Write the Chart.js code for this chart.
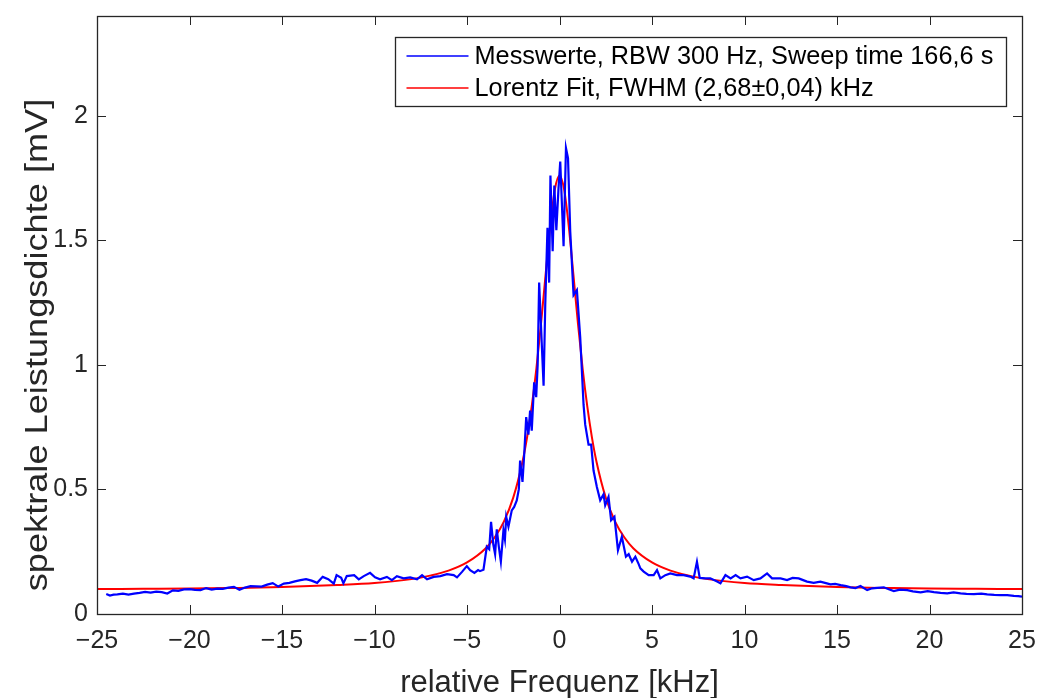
<!DOCTYPE html>
<html>
<head>
<meta charset="utf-8">
<script src="https://cdn.jsdelivr.net/npm/chart.js@4.4.1/dist/chart.umd.min.js"></script>
<style>
  html, body { margin: 0; padding: 0; background: #fff; }
</style>
</head>
<body>
<canvas id="spectrum" width="1040" height="698"></canvas>
<script>
var freqMess = [
  -24.5, -24.3, -24.1, -23.9, -23.6, -23.3, -23.0, -22.7, -22.4, -22.1,
  -21.8, -21.5, -21.2, -20.9, -20.6, -20.3, -20.0, -19.7, -19.4, -19.1,
  -18.8, -18.5, -18.2, -17.9, -17.6, -17.3, -17.0, -16.7, -16.4, -16.1,
  -15.8, -15.5, -15.2, -14.9, -14.6, -14.3, -14.0, -13.7, -13.4, -13.1,
  -12.8, -12.5, -12.2, -12.05, -11.8, -11.68, -11.5, -11.1, -10.85, -10.58,
  -10.24, -9.97, -9.7, -9.33, -9.06, -8.79, -8.43, -8.07, -7.7, -7.43,
  -7.16, -6.8, -6.44, -6.08, -5.72, -5.54, -5.27, -5.01, -4.83, -4.6,
  -4.4, -4.3, -4.11, -3.93, -3.8, -3.7, -3.58, -3.48, -3.39, -3.28,
  -3.17, -3.03, -2.95, -2.88, -2.76, -2.58, -2.45, -2.31, -2.2, -2.13,
  -2.0, -1.9, -1.8, -1.68, -1.59, -1.5, -1.37, -1.26, -1.18, -1.1,
  -0.95, -0.86, -0.77, -0.65, -0.56, -0.49, -0.37, -0.28, -0.17, -0.06,
  0.04, 0.22, 0.35, 0.46, 0.58, 0.76, 0.94, 1.12, 1.3, 1.39,
  1.57, 1.71, 1.84, 2.02, 2.2, 2.38, 2.47, 2.65, 2.79, 2.97,
  3.16, 3.37, 3.59, 3.74, 3.92, 4.1, 4.28, 4.37, 4.55, 4.82,
  5.09, 5.27, 5.45, 5.72, 5.99, 6.35, 6.71, 7.07, 7.25, 7.43,
  7.58, 7.88, 8.15, 8.52, 8.7, 8.97, 9.25, 9.52, 9.78, 10.14,
  10.5, 10.86, 11.22, 11.49, 11.95, 12.3, 12.6, 12.93, 13.1, 13.38,
  13.74, 14.1, 14.4, 14.65, 14.9, 15.2, 15.5, 15.73, 16.0, 16.27,
  16.63, 16.9, 17.17, 17.53, 17.8, 18.07, 18.4, 18.8, 19.1, 19.52,
  19.9, 20.24, 20.6, 20.96, 21.3, 21.68, 22.0, 22.4, 22.8, 23.12,
  23.5, 23.84, 24.2, 24.56, 24.8, 25.0
];
var valMess = [
  0.080, 0.074, 0.078, 0.079, 0.082, 0.078, 0.082, 0.085, 0.089, 0.086,
  0.090, 0.088, 0.082, 0.095, 0.093, 0.099, 0.100, 0.097, 0.096, 0.104,
  0.098, 0.102, 0.101, 0.106, 0.109, 0.097, 0.106, 0.112, 0.111, 0.110,
  0.118, 0.124, 0.110, 0.122, 0.125, 0.131, 0.136, 0.140, 0.134, 0.125,
  0.149, 0.140, 0.122, 0.156, 0.145, 0.123, 0.152, 0.156, 0.139, 0.152,
  0.165, 0.147, 0.139, 0.149, 0.136, 0.152, 0.143, 0.147, 0.139, 0.156,
  0.139, 0.149, 0.152, 0.160, 0.156, 0.147, 0.169, 0.192, 0.176, 0.165,
  0.176, 0.172, 0.178, 0.270, 0.260, 0.370, 0.280, 0.240, 0.340, 0.270,
  0.210, 0.336, 0.300, 0.390, 0.350, 0.416, 0.430, 0.456, 0.500, 0.616,
  0.530, 0.650, 0.790, 0.720, 0.816, 0.736, 0.930, 0.870, 1.000, 1.330,
  1.070, 0.916, 1.240, 1.550, 1.330, 1.760, 1.456, 1.720, 1.540, 1.700,
  1.816, 1.476, 1.870, 1.830, 1.536, 1.280, 1.300, 1.110, 0.840, 0.760,
  0.680, 0.680, 0.576, 0.510, 0.456, 0.480, 0.436, 0.470, 0.376, 0.390,
  0.256, 0.310, 0.230, 0.240, 0.210, 0.230, 0.200, 0.183, 0.170, 0.156,
  0.156, 0.176, 0.143, 0.156, 0.163, 0.156, 0.156, 0.150, 0.143, 0.210,
  0.145, 0.143, 0.143, 0.130, 0.123, 0.156, 0.143, 0.156, 0.143, 0.150,
  0.136, 0.143, 0.163, 0.143, 0.143, 0.136, 0.145, 0.143, 0.138, 0.130,
  0.125, 0.130, 0.124, 0.119, 0.121, 0.116, 0.112, 0.107, 0.104, 0.112,
  0.096, 0.103, 0.105, 0.107, 0.099, 0.092, 0.098, 0.096, 0.091, 0.087,
  0.092, 0.088, 0.085, 0.083, 0.087, 0.083, 0.081, 0.080, 0.082, 0.079,
  0.077, 0.076, 0.076, 0.073, 0.072, 0.070
];

// Lorentz fit (red curve), sampled from the plot
var freqFit = [
  -25, -22.5, -20, -18, -15, -12, -10, -8, -7, -6, -5, -4, -3.5, -3, -2.5,
  -2, -1.75, -1.5, -1.25, -1, -0.75, -0.5, -0.25, 0,
  0.25, 0.5, 0.75, 1, 1.25, 1.5, 1.75, 2, 2.5, 3, 3.5, 4, 5, 6, 7, 8,
  10, 12, 15, 18, 20, 22.5, 25
];
var valFit = [
  0.100, 0.101, 0.102, 0.104, 0.108, 0.116, 0.124, 0.140, 0.154, 0.174, 0.207, 0.263, 0.308, 0.372, 0.467,
  0.611, 0.710, 0.834, 0.985, 1.164, 1.363, 1.557, 1.704, 1.760,
  1.704, 1.557, 1.363, 1.164, 0.985, 0.834, 0.710, 0.611, 0.467, 0.372, 0.308, 0.263, 0.207, 0.174, 0.154, 0.140,
  0.124, 0.116, 0.108, 0.104, 0.102, 0.101, 0.100
];

var xTicks = [-25, -20, -15, -10, -5, 0, 5, 10, 15, 20, 25];
var yTicks = [0, 0.5, 1, 1.5, 2];

var labelMess = 'Messwerte, RBW 300 Hz, Sweep time 166,6 s';
var labelFit = 'Lorentz Fit, FWHM (2,68\u00b10,04) kHz';
var xTitle = 'relative Frequenz [kHz]';
var yTitle = 'spektrale Leistungsdichte [mV]';

var axisColor = '#262626';
var fontFamily = '"Liberation Sans", Arial, Helvetica, sans-serif';

function toPoints(xs, ys) {
  return xs.map(function(x, i) { return { x: x, y: ys[i] }; });
}

// matlab style numbers: real minus sign
function tickText(v) {
  return v < 0 ? '\u2212' + String(-v) : String(v);
}

// box, inward ticks, y label and legend like the matlab figure
var matlabFrame = {
  id: 'matlabFrame',
  afterDraw: function(chart) {
    var ctx = chart.ctx;
    var area = chart.chartArea;
    var xs = chart.scales.x, ys = chart.scales.y;
    var tl = 9;
    ctx.save();
    ctx.strokeStyle = axisColor;
    ctx.lineWidth = 1;
    ctx.beginPath();
    xTicks.forEach(function(v) {
      var px = Math.round(xs.getPixelForValue(v)) + 0.5;
      ctx.moveTo(px, area.bottom); ctx.lineTo(px, area.bottom - tl);
      ctx.moveTo(px, area.top); ctx.lineTo(px, area.top + tl);
    });
    yTicks.forEach(function(v) {
      var py = Math.round(ys.getPixelForValue(v)) + 0.5;
      ctx.moveTo(area.left, py); ctx.lineTo(area.left + tl, py);
      ctx.moveTo(area.right, py); ctx.lineTo(area.right - tl, py);
    });
    ctx.stroke();
    ctx.lineWidth = 1.3;
    ctx.strokeRect(Math.round(area.left) + 0.5, Math.round(area.top) + 0.5,
      Math.round(area.right - area.left), Math.round(area.bottom - area.top));

    // y label: the original picture is stretched a bit vertically
    ctx.save();
    ctx.translate(38, (area.top + area.bottom) / 2 + 30);
    ctx.rotate(-Math.PI / 2);
    ctx.scale(1.13, 1);
    ctx.font = '32px ' + fontFamily;
    ctx.fillStyle = axisColor;
    ctx.textAlign = 'center';
    ctx.textBaseline = 'middle';
    ctx.fillText(yTitle, 0, 0);
    ctx.restore();

    // legend
    var items = chart.data.datasets;
    ctx.font = '25.3px ' + fontFamily;
    var tw = 0;
    items.forEach(function(d) { tw = Math.max(tw, ctx.measureText(d.label).width); });
    var boxW = Math.round(79 + tw + 13);
    var boxH = 69;
    var bx = Math.round(area.right - 16 - boxW) + 0.5;
    var by = Math.round(area.top + 21) + 0.5;
    ctx.fillStyle = '#fff';
    ctx.fillRect(bx, by, boxW, boxH);
    ctx.strokeStyle = axisColor;
    ctx.lineWidth = 1.3;
    ctx.strokeRect(bx, by, boxW, boxH);
    ctx.textBaseline = 'middle';
    ctx.textAlign = 'left';
    items.forEach(function(d, i) {
      var ry = by + 18.5 + i * 32;
      ctx.strokeStyle = d.borderColor;
      ctx.lineWidth = 1.5;
      ctx.beginPath();
      ctx.moveTo(bx + 11, ry); ctx.lineTo(bx + 73, ry);
      ctx.stroke();
      ctx.fillStyle = '#000';
      ctx.fillText(d.label, bx + 79, ry + 1);
    });
    ctx.restore();
  }
};

var tickFont = { family: fontFamily, size: 25 };

new Chart(document.getElementById('spectrum'), {
  type: 'line',
  data: {
    datasets: [
      {
        label: labelMess,
        data: toPoints(freqMess, valMess),
        borderColor: '#0000ff',
        borderWidth: 2.2,
        pointRadius: 0,
        tension: 0
      },
      {
        label: labelFit,
        data: toPoints(freqFit, valFit),
        borderColor: '#ff0000',
        borderWidth: 2,
        pointRadius: 0,
        cubicInterpolationMode: 'monotone'
      }
    ]
  },
  options: {
    responsive: false,
    animation: false,
    devicePixelRatio: 1,
    layout: { padding: { top: 16, right: 18, left: 0, bottom: 0 } },
    plugins: {
      legend: { display: false },
      tooltip: { enabled: false }
    },
    scales: {
      x: {
        type: 'linear',
        min: -25,
        max: 25,
        afterBuildTicks: function(s) { s.ticks = xTicks.map(function(v) { return { value: v }; }); },
        afterFit: function(s) { s.height = 84; s.paddingLeft = 0; s.paddingRight = 0; },
        grid: { display: false, drawTicks: false },
        border: { display: false },
        ticks: {
          font: tickFont, color: axisColor, padding: 12, maxRotation: 0, autoSkip: false,
          callback: tickText
        },
        title: { display: true, text: xTitle, font: { family: fontFamily, size: 31 }, color: axisColor, padding: { top: 0, bottom: -4 } }
      },
      y: {
        type: 'linear',
        min: 0,
        max: 2.4,
        afterBuildTicks: function(s) { s.ticks = yTicks.map(function(v) { return { value: v }; }); },
        afterFit: function(s) { s.width = 97; s.paddingTop = 0; s.paddingBottom = 0; },
        grid: { display: false, drawTicks: false },
        border: { display: false },
        ticks: {
          font: tickFont, color: axisColor, padding: 9,
          callback: tickText
        },
        title: { display: false }
      }
    }
  },
  plugins: [matlabFrame]
});
</script>
</body>
</html>
